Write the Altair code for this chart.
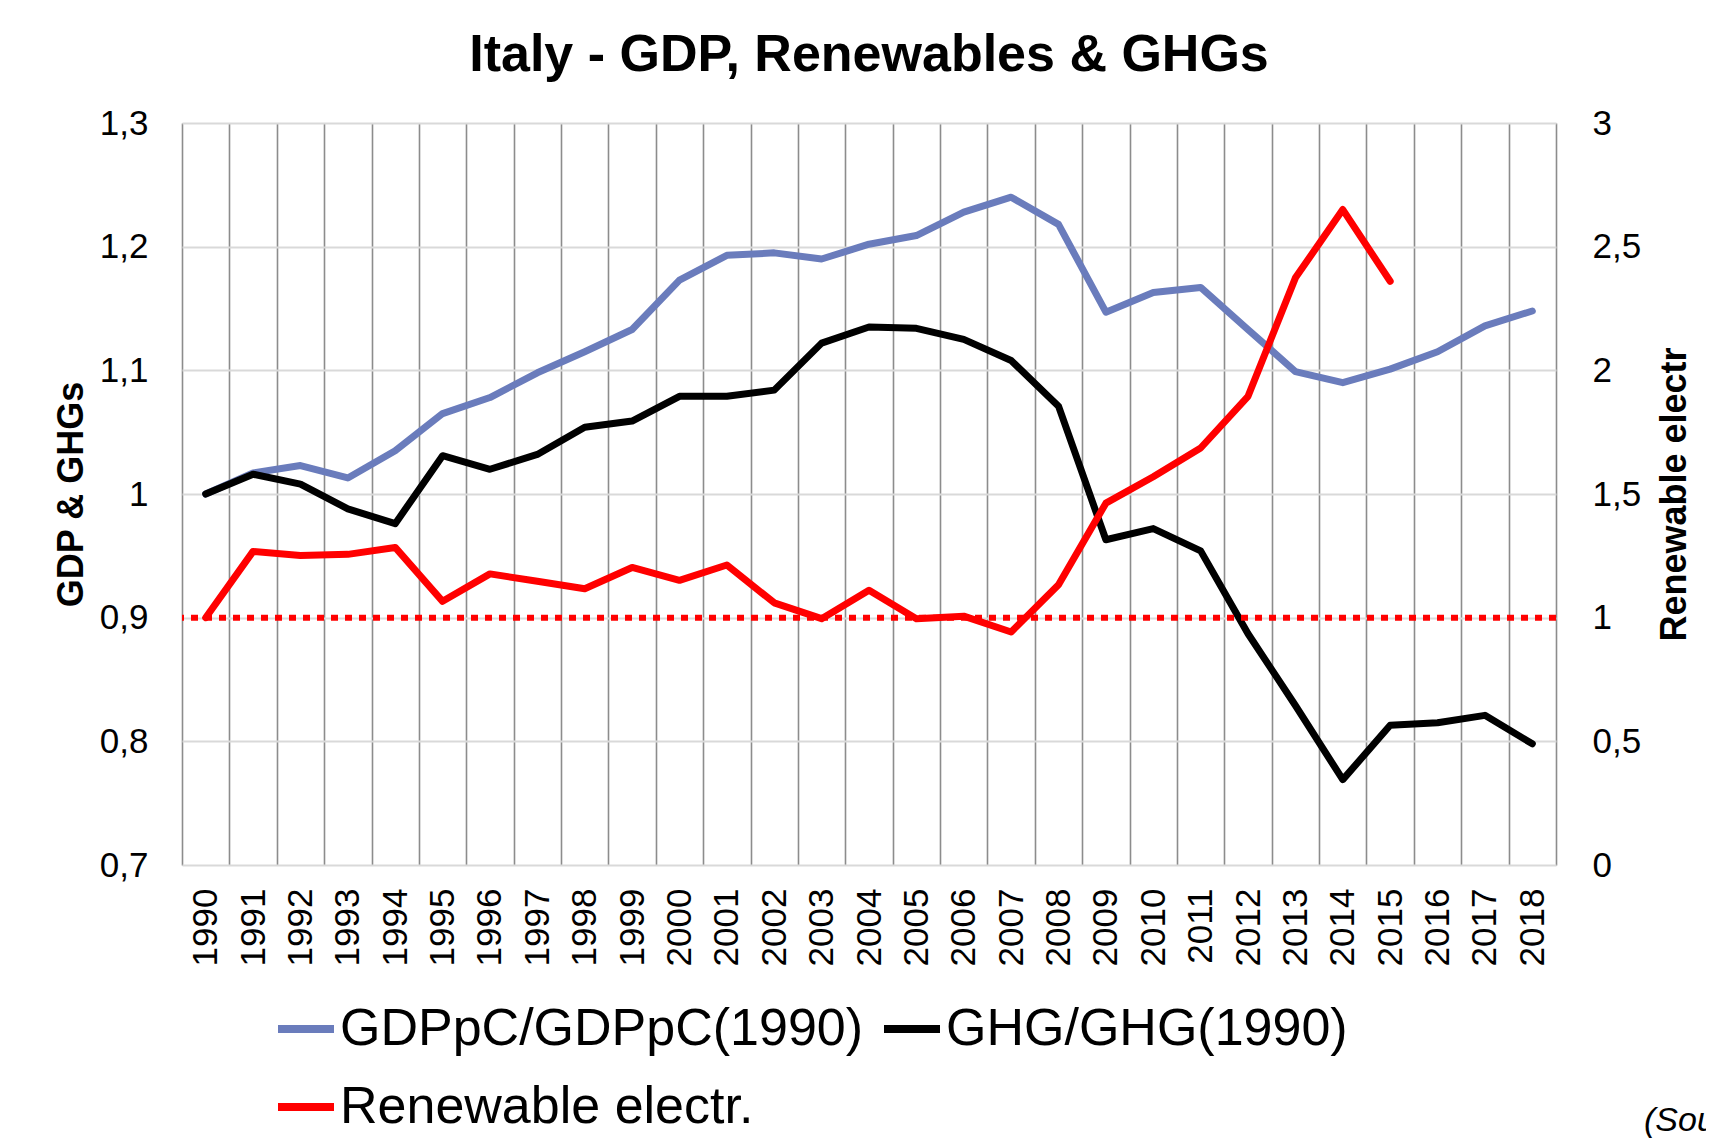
import altair as alt
import pandas as pd

# ---- data ----
years = [1990, 1991, 1992, 1993, 1994, 1995, 1996, 1997, 1998, 1999,
         2000, 2001, 2002, 2003, 2004, 2005, 2006, 2007, 2008, 2009,
         2010, 2011, 2012, 2013, 2014, 2015, 2016, 2017, 2018]
gdp = [1.000, 1.017, 1.023, 1.013, 1.035, 1.065, 1.078, 1.098, 1.115, 1.133,
       1.173, 1.193, 1.195, 1.190, 1.202, 1.209, 1.228, 1.240, 1.218, 1.147,
       1.163, 1.167, 1.133, 1.099, 1.090, 1.101, 1.115, 1.136, 1.148]
ghg = [1.000, 1.016, 1.008, 0.988, 0.976, 1.031, 1.020, 1.032, 1.054, 1.059,
       1.079, 1.079, 1.084, 1.122, 1.135, 1.134, 1.125, 1.108, 1.071, 0.963,
       0.972, 0.954, 0.887, 0.829, 0.769, 0.813, 0.815, 0.821, 0.798]
ren_years = years[:26]
ren = [1.000, 1.268, 1.251, 1.256, 1.284, 1.066, 1.177, 1.147, 1.117, 1.203,
       1.151, 1.213, 1.060, 0.996, 1.111, 0.996, 1.006, 0.942, 1.133, 1.463,
       1.570, 1.686, 1.895, 2.374, 2.650, 2.360]
ref_level = [1.0]

series_names = ["GDPpC/GDPpC(1990)", "GHG/GHG(1990)", "Renewable electr."]
series_colors = ["#6A7CBC", "#000000", "#FF0000"]

left_ticks = [0.7, 0.8, 0.9, 1.0, 1.1, 1.2, 1.3]
right_ticks = [0.0, 0.5, 1.0, 1.5, 2.0, 2.5, 3.0]
grid_years = [1989.5 + i for i in range(30)]  # band boundaries between years
source_text = ["(Sou"]

FONT = "Liberation Sans"

left_df = pd.DataFrame({
    "year": years * 2,
    "value": gdp + ghg,
    "series": [series_names[0]] * len(years) + [series_names[1]] * len(years),
})
right_df = pd.DataFrame({
    "year": ren_years,
    "value": ren,
    "series": [series_names[2]] * len(ren_years),
})
ref_df = pd.DataFrame({"ref": ref_level})
src_df = pd.DataFrame({"t": source_text})

xscale = alt.Scale(domain=[1989.5, 2018.5], nice=False, zero=False)
label_expr = "replace(format(datum.value, '.2~f'), '.', ',')"

color = alt.Color(
    "series:N",
    scale=alt.Scale(domain=series_names, range=series_colors),
    legend=alt.Legend(
        title=None, orient="none", legendX=92, legendY=874,
        direction="horizontal", columns=2, symbolType="stroke",
        symbolSize=3136, symbolStrokeWidth=8, labelFontSize=52,
        labelFont=FONT, labelOffset=2, columnPadding=4, rowPadding=20,
        labelLimit=2000, symbolOffset=0, padding=0,
    ),
)

x_grid = alt.X(
    "year:Q", scale=xscale,
    axis=alt.Axis(orient="bottom", values=grid_years, grid=True,
                  gridColor="#8C8C8C", gridWidth=1.6, labels=False,
                  ticks=False, domain=False, title=None),
)
x_lab = alt.X(
    "year:Q", scale=xscale,
    axis=alt.Axis(orient="bottom", values=years, grid=False, ticks=False,
                  domain=False, labelAngle=270, format="d",
                  labelFontSize=35, labelFont=FONT, labelColor="#000000",
                  labelPadding=23, title=None, labelOverlap=False),
)

y_left = alt.Y(
    "value:Q",
    scale=alt.Scale(domain=[0.7, 1.3], nice=False, zero=False),
    axis=alt.Axis(values=left_ticks, grid=True, gridColor="#D9D9D9",
                  gridWidth=2, ticks=False, domain=False,
                  labelExpr=label_expr, labelFontSize=35, labelFont=FONT,
                  labelColor="#000000", labelPadding=34,
                  title="GDP & GHGs", titleFontSize=36, titleFont=FONT,
                  titleFontWeight="bold", titleColor="#000000",
                  titleAngle=270, titleX=-100, titleY=371,
                  titleAlign="center", titleBaseline="alphabetic"),
)
y_right = alt.Y(
    "value:Q",
    scale=alt.Scale(domain=[0, 3], nice=False, zero=False),
    axis=alt.Axis(orient="right", values=right_ticks, grid=False,
                  ticks=False, domain=False, labelExpr=label_expr,
                  labelFontSize=35, labelFont=FONT, labelColor="#000000",
                  labelPadding=36,
                  title="Renewable electr", titleFontSize=36, titleFont=FONT,
                  titleFontWeight="bold", titleColor="#000000",
                  titleAngle=270, titleX=129, titleY=371,
                  titleAlign="center", titleBaseline="alphabetic"),
)

left_lines = alt.Chart(left_df).mark_line(
    strokeWidth=7, strokeCap="round", strokeJoin="round"
).encode(x=x_grid, y=y_left, color=color, detail="series:N",
         order=alt.Order("year:Q"))

ren_line = alt.Chart(right_df).mark_line(
    strokeWidth=7, strokeCap="round", strokeJoin="round"
).encode(x=x_lab, y=y_right, color=color)

ref_rule = alt.Chart(ref_df).mark_rule(
    color="#FF0000", strokeWidth=6, strokeDash=[7, 7]
).encode(y=alt.Y("ref:Q"))

right_layer = alt.layer(ref_rule, ren_line)

src = alt.Chart(src_df).mark_text(
    font=FONT, fontSize=34, fontStyle="italic", align="left",
    baseline="middle", color="#000000"
).encode(text="t:N", x=alt.value(1462), y=alt.value(998))

chart = alt.layer(left_lines, right_layer, src).resolve_scale(
    y="independent"
).resolve_axis(
    x="independent"
).properties(
    width=1374, height=742,
    title=alt.TitleParams("Italy - GDP, Renewables & GHGs", fontSize=52,
                          font=FONT, fontWeight="bold", color="#000000",
                          anchor="middle", frame="group", offset=38,
                          dy=55, baseline="alphabetic"),
    autosize=alt.AutoSizeParams(type="none"),
    padding={"left": 174, "top": 115, "right": 150, "bottom": 275},
).configure_view(
    strokeWidth=0
).configure(background="#FFFFFF")

chart.save("out.html", embed_options={"renderer": "svg", "actions": False})
